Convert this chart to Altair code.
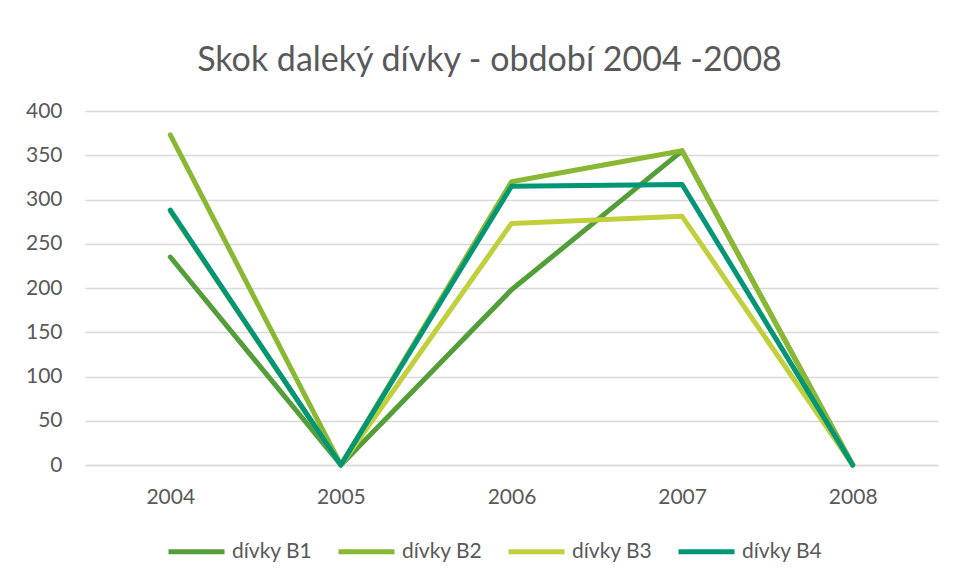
import altair as alt
import pandas as pd

years = ["2004", "2005", "2006", "2007", "2008"]
series_names = ["dívky B1", "dívky B2", "dívky B3", "dívky B4"]
b1 = [235, 0, 198, 355, 0]
b2 = [373, 0, 320, 355, 0]
b3 = [287, 0, 273, 281, 0]
b4 = [288, 0, 315, 317, 0]
colors = ["#549E39", "#8AB833", "#C0CF3A", "#029676"]
y_ticks = [0, 50, 100, 150, 200, 250, 300, 350, 400]

rows = []
for name, vals in zip(series_names, [b1, b2, b3, b4]):
    for yr, v in zip(years, vals):
        rows.append({"rok": yr, "hodnota": v, "serie": name})
df = pd.DataFrame(rows)

FONT = "Lato"
TXT = "#595959"

chart = (
    alt.Chart(df)
    .mark_line(strokeWidth=5, strokeCap="round", strokeJoin="round")
    .encode(
        x=alt.X("rok:N", sort=years, title=None,
                scale=alt.Scale(paddingInner=0, paddingOuter=0.5),
                axis=alt.Axis(labelAngle=0, ticks=False, grid=False,
                              domainColor="#D9D9D9", domainWidth=1.5,
                              labelPadding=21, labelFontSize=21,
                              labelColor=TXT, labelFont=FONT)),
        y=alt.Y("hodnota:Q", title=None,
                scale=alt.Scale(domain=[0, 400], nice=False),
                axis=alt.Axis(values=y_ticks, domain=False, ticks=False,
                              gridColor="#D9D9D9", gridWidth=1.5,
                              labelPadding=23, labelFontSize=21,
                              labelColor=TXT, labelFont=FONT)),
        color=alt.Color("serie:N", sort=series_names, title=None,
                        scale=alt.Scale(domain=series_names, range=colors),
                        legend=alt.Legend(orient="none", legendX=81, legendY=410,
                                          direction="horizontal", columns=4,
                                          symbolType="stroke", symbolSize=3136,
                                          symbolStrokeWidth=5, labelOffset=5,
                                          columnPadding=15,
                                          labelFontSize=21, labelColor=TXT,
                                          labelFont=FONT)),
        order=alt.Order("serie:N"),
    )
    .properties(
        width=853,
        height=354,
        title=alt.TitleParams("Skok daleký dívky - období 2004 -2008",
                              fontSize=34, font=FONT, fontWeight="normal",
                              color=TXT, anchor="middle", dx=-22, dy=5,
                              offset=0, baseline="alphabetic"),
        autosize=alt.AutoSizeParams(type="none"),
        padding={"left": 77, "top": 103, "right": 11, "bottom": 107},
    )
    .configure(background="white")
    .configure_view(stroke=None, strokeWidth=0)
)

chart.save("out.html", embed_options={"renderer": "svg", "actions": False})
